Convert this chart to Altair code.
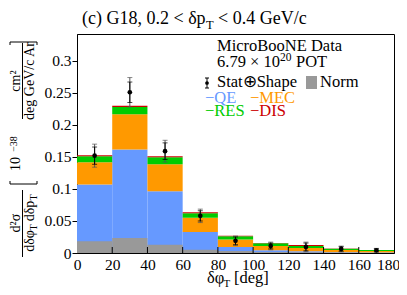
import altair as alt
import pandas as pd

# ---------------- data ----------------
bin_lo = [0, 20, 40, 60, 80, 100, 120, 140, 160]
bin_hi = [20, 40, 60, 80, 100, 120, 140, 160, 180]
centers = [10, 30, 50, 70, 90, 110, 130, 150, 170]

qe = [0.107, 0.1615, 0.0964, 0.0328, 0.0094, 0.0042, 0.0027, 0.0011, 0.0006]
mec = [0.0347, 0.0552, 0.0421, 0.0224, 0.0116, 0.0068, 0.0051, 0.0036, 0.0025]
res = [0.0093, 0.0113, 0.0110, 0.0068, 0.0050, 0.0042, 0.0032, 0.0020, 0.0015]
dis = [0.0016, 0.0020, 0.0015, 0.0015, 0.0008, 0.0006, 0.0015, 0.0003, 0.0002]
norm = [0.0182, 0.0234, 0.0130, 0.0052, 0.0030, 0.0016, 0.0010, 0.0005, 0.0003]

data_val = [0.152, 0.251, 0.159, 0.058, 0.019, 0.011, 0.0095, 0.0063, 0.0042]
err_tot = [0.018, 0.023, 0.017, 0.0105, 0.0075, 0.006, 0.0075, 0.0045, 0.003]
err_stat = [0.0135, 0.016, 0.013, 0.008, 0.006, 0.0045, 0.006, 0.0035, 0.0022]

x_ticks = [0, 20, 40, 60, 80, 100, 120, 140, 160, 180]
y_ticks = [0, 0.05, 0.1, 0.15, 0.2, 0.25, 0.3]

components = ["QE", "MEC", "RES", "DIS"]
comp_colors = ["#6699FF", "#FF9900", "#00CC00", "#CC0000"]

# ---------------- layout ----------------
W, H = 317, 219
YMAX = 0.342
FONT = "Liberation Serif"

xs = alt.Scale(domain=[0, 180], nice=False, zero=False)
ys = alt.Scale(domain=[0, YMAX], nice=False, zero=True)

rows = []
base = [0.0] * len(bin_lo)
for comp, vals in zip(components, [qe, mec, res, dis]):
    for i, v in enumerate(vals):
        rows.append(dict(lo=bin_lo[i], hi=bin_hi[i], b=base[i], t=base[i] + v, comp=comp))
        base[i] += v
stack_df = pd.DataFrame(rows)

norm_df = pd.DataFrame(dict(lo=bin_lo, hi=bin_hi, v=norm))
pts_df = pd.DataFrame(dict(
    c=centers, v=data_val,
    tlo=[d - e for d, e in zip(data_val, err_tot)],
    thi=[d + e for d, e in zip(data_val, err_tot)],
    slo=[d - e for d, e in zip(data_val, err_stat)],
    shi=[d + e for d, e in zip(data_val, err_stat)],
))
tick_df = pd.DataFrame(dict(x=x_ticks[1:-1]))
one = pd.DataFrame({"a": [0]})

X_AXIS = alt.Axis(values=x_ticks, format="d", ticks=False, labelPadding=4,
                  labelFont=FONT, labelFontSize=15.5, labelColor="black",
                  domainColor="black", grid=False, labelFlush=False,
                  labelOverlap=False, title=None,
                  labelOffset={"condition": {"test": "datum.value == 180", "value": -6}, "value": 0})
Y_AXIS = alt.Axis(values=y_ticks, format="~g", tickSize=5, tickColor="black",
                  labelPadding=1, labelFont=FONT, labelFontSize=15.5,
                  labelColor="black", domainColor="black", grid=False,
                  labelFlush=False, labelOverlap=False, title=None)


def X(f):
    return alt.X(f, scale=xs, axis=X_AXIS, title=None)


def Y(f):
    return alt.Y(f, scale=ys, axis=Y_AXIS, title=None)


bars = alt.Chart(stack_df).mark_bar().encode(
    x=X("lo:Q"), x2="hi:Q", y=Y("b:Q"), y2="t:Q",
    color=alt.Color("comp:N", scale=alt.Scale(domain=components, range=comp_colors), legend=None),
)

norm_bars = alt.Chart(norm_df).mark_bar(color="#999999").encode(
    x=X("lo:Q"), x2="hi:Q", y=Y("v:Q"), y2=alt.datum(0))

inner_ticks = alt.Chart(tick_df).mark_rule(color="black", strokeWidth=1).encode(
    x=X("x:Q"), y=alt.value(H), y2=alt.value(H - 6))

err_t = alt.Chart(pts_df).mark_rule(color="#555555", strokeWidth=1).encode(
    x=X("c:Q"), y=Y("tlo:Q"), y2="thi:Q")
cap_t1 = alt.Chart(pts_df).mark_tick(color="#555555", orient="horizontal", size=5, thickness=1).encode(
    x=X("c:Q"), y=Y("tlo:Q"))
cap_t2 = alt.Chart(pts_df).mark_tick(color="#555555", orient="horizontal", size=5, thickness=1).encode(
    x=X("c:Q"), y=Y("thi:Q"))
err_s = alt.Chart(pts_df).mark_rule(color="black", strokeWidth=1).encode(
    x=X("c:Q"), y=Y("slo:Q"), y2="shi:Q")
cap_s1 = alt.Chart(pts_df).mark_tick(color="black", orient="horizontal", size=5, thickness=1).encode(
    x=X("c:Q"), y=Y("slo:Q"))
cap_s2 = alt.Chart(pts_df).mark_tick(color="black", orient="horizontal", size=5, thickness=1).encode(
    x=X("c:Q"), y=Y("shi:Q"))
points = alt.Chart(pts_df).mark_point(filled=True, color="black", size=22, opacity=1).encode(
    x=X("c:Q"), y=Y("v:Q"))


def txt(s, x, y, size=16.5, color="black", align="left", angle=0, baseline="alphabetic"):
    return alt.Chart(one).mark_text(
        text=s, font=FONT, fontSize=size, color=color, align=align,
        baseline=baseline, angle=angle,
    ).encode(x=alt.value(x), y=alt.value(y))


def seg(x1, y1, x2, y2, color="black", w=1):
    return alt.Chart(one).mark_rule(color=color, strokeWidth=w).encode(
        x=alt.value(x1), x2=alt.value(x2), y=alt.value(y1), y2=alt.value(y2))


ann = [
    # title
    txt("(c) G18, 0.2 < δp", 5, -10.5, size=18),
    txt("T", 129, -5, size=12.5),
    txt("< 0.4 GeV/c", 141, -10.5, size=18),
    # legend
    txt("MicroBooNE Data", 140, 16.7),
    txt("6.79 × 10", 140, 33),
    txt("20", 203, 27, size=11.5),
    txt("POT", 219, 33),
    seg(130, 44, 130, 54),
    seg(128, 44, 132, 44),
    seg(128, 54, 132, 54),
    alt.Chart(one).mark_point(filled=True, color="black", size=14, opacity=1).encode(
        x=alt.value(130), y=alt.value(49)),
    txt("Stat⊕Shape", 140, 52.7),
    alt.Chart(one).mark_rect(color="#999999").encode(
        x=alt.value(229), x2=alt.value(240), y=alt.value(42), y2=alt.value(55)),
    txt("Norm", 243, 52.7),
    txt("−QE", 128, 68.7, color=comp_colors[0]),
    txt("−MEC", 173, 68.7, color=comp_colors[1]),
    txt("−RES", 128, 82, color=comp_colors[2]),
    txt("−DIS", 173, 82, color=comp_colors[3]),
    # x title
    txt("δφ", 130, 249),
    txt("T", 146.5, 252.5, size=11),
    txt("[deg]", 157, 249),
    # y title (rotated), upper fraction
    seg(-67, 8, -40, 8), seg(-67, 8, -67, 11), seg(-40, 8, -40, 11),
    txt("cm²", -61.5, 47, size=14, align="center", angle=270, baseline="middle"),
    seg(-54.5, 9, -54.5, 85),
    txt("deg GeV/c Ar", -47, 47, size=14, align="center", angle=270, baseline="middle"),
    # 10^-38 and bracket
    txt("10", -61.5, 130, size=14, align="center", angle=270, baseline="middle"),
    txt("−38", -63.5, 110, size=10, align="center", angle=270, baseline="middle"),
    seg(-67, 150, -40, 150), seg(-67, 150, -67, 147), seg(-40, 150, -40, 147),
    # lower fraction
    txt("d²σ", -61.5, 189, size=14, align="center", angle=270, baseline="middle"),
    seg(-54.5, 156, -54.5, 223),
    txt("dδφ", -47, 207, size=14, align="center", angle=270, baseline="middle"),
    txt("T", -43, 193.5, size=10, align="center", angle=270, baseline="middle"),
    txt("dδp", -47, 177, size=14, align="center", angle=270, baseline="middle"),
    txt("T", -43, 163.5, size=10, align="center", angle=270, baseline="middle"),
]

chart = alt.layer(
    bars, norm_bars, inner_ticks,
    err_t, cap_t1, cap_t2, err_s, cap_s1, cap_s2, points,
    *ann,
).properties(
    width=W, height=H,
    autosize=alt.AutoSizeParams(type="none"),
    padding={"left": 69, "top": 26, "right": 5, "bottom": 34},
).configure_view(
    stroke="black", strokeWidth=1
).configure_axis(
    domainWidth=1, labelOverlap=False
)

chart.save("out.html", embed_options={"renderer": "svg", "actions": False})
